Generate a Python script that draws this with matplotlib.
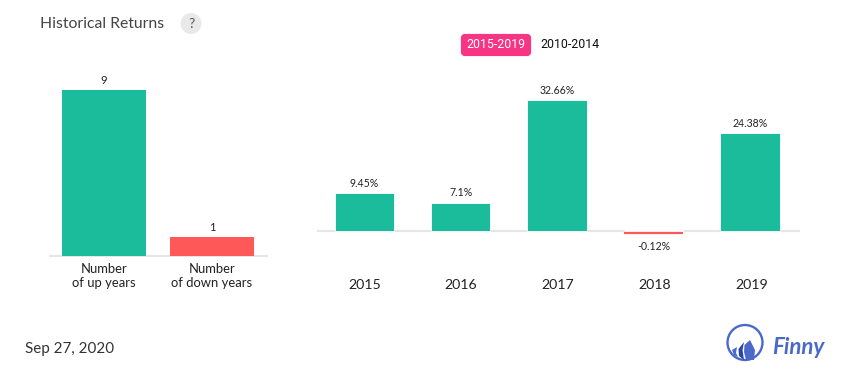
import matplotlib
matplotlib.use("Agg")
import matplotlib.pyplot as plt
from matplotlib.patches import Circle, FancyBboxPatch, Polygon

W, H = 855, 382
GREEN, RED = "#1abc9c", "#ff5858"

count_labels = ["Number\nof up years", "Number\nof down years"]
count_values = [9, 1]
years = ["2015", "2016", "2017", "2018", "2019"]
returns = [9.45, 7.1, 32.66, -0.12, 24.38]
return_labels = ["9.45%", "7.1%", "32.66%", "-0.12%", "24.38%"]

plt.rcParams["font.family"] = ["Lato", "DejaVu Sans"]
fig = plt.figure(figsize=(W / 100, H / 100), dpi=100)
fig.patch.set_facecolor("white")


def px_axes(x0, y0, x1, y1):
    return fig.add_axes([x0 / W, 1 - y1 / H, (x1 - x0) / W, (y1 - y0) / H])


def px_text(x, y, s, **kw):
    fig.text(x / W, 1 - y / H, s, **kw)


# overlay in pixel coordinates for the decorations
ov = fig.add_axes([0, 0, 1, 1], zorder=5)
ov.set_xlim(0, W)
ov.set_ylim(H, 0)
ov.axis("off")
ov.patch.set_alpha(0)

# left chart
ax1 = px_axes(50, 60, 267, 255.5)
ax1.set_xlim(-0.5, 1.51)
ax1.set_ylim(0, 9 * 195.5 / 165.5)
ax1.bar(range(2), count_values, width=0.778,
        color=[GREEN if i == 0 else RED for i in range(2)], zorder=3)
for i, v in enumerate(count_values):
    ax1.annotate(str(v), (i, v), xytext=(0, 3.2), textcoords="offset points",
                 ha="center", va="bottom", fontsize=8, color="#222222")
ax1.set_xticks(range(2), count_labels)
ax1.tick_params(axis="x", length=0, pad=5.5, labelsize=9.4, labelcolor="#222222")
ax1.set_yticks([])

# right chart
ax2 = px_axes(317, 60, 800, 300)
ax2.set_xlim(-0.49, 4.52)
px_per_unit = 131.0 / 32.66
ax2.set_ylim(-69 / px_per_unit, 171 / px_per_unit)
ax2.bar(range(5), [max(v, 0) for v in returns], width=0.615,
        color=GREEN, edgecolor="white", linewidth=0.6, zorder=3)
ax2.axhline(0, color="#e6e6e6", lw=1.5, zorder=1)
for i, v in enumerate(returns):
    if v < 0:
        ax2.hlines(0, i - 0.31, i + 0.31, color="white", lw=2.5, zorder=2)
        ax2.hlines(v - 0.3, i - 0.305, i + 0.305, color=RED, lw=1.6, zorder=3)
    y = max(v, 0)
    ax2.annotate(return_labels[i], (i, y), xytext=(0, 3.0 if v >= 0 else -7.4),
                 textcoords="offset points", ha="center",
                 va="bottom" if v >= 0 else "top", fontsize=7.6, color="#222222")
    px_text(364.5 + 96.7 * i, 285, years[i], ha="center", va="center",
            fontsize=10.2, color="#222222")
ax2.set_xticks([])
ax2.set_yticks([])

for ax in (ax1, ax2):
    ax.patch.set_alpha(0)
    for name, s in ax.spines.items():
        s.set_visible(name == "bottom" and ax is ax1)
        s.set_color("#e6e6e6")
        s.set_linewidth(1.5)

# header
px_text(40, 23.5, "Historical Returns", ha="left", va="center", fontsize=11.3, color="#444444")
ov.add_patch(Circle((191, 23.5), 10.5, fc="#e9e9e9", ec="none"))
ov.text(191, 23.5, "?", ha="center", va="center", fontsize=10, color="#555555", zorder=10)

# period switch
ov.add_patch(FancyBboxPatch((463, 36), 66, 18, boxstyle="round,pad=0,rounding_size=2",
                            mutation_aspect=1, fc="#f73585", ec="#f73585", lw=3))
PILL = ["Roboto", "DejaVu Sans"]
ov.text(495.5, 45, "2015-2019", ha="center", va="center", fontsize=8.9, color="white", family=PILL)
ov.text(569.5, 45, "2010-2014", ha="center", va="center", fontsize=8.9, color="#111111", family=PILL)

# footer
px_text(25, 349, "Sep 27, 2020", ha="left", va="center", fontsize=10.9, color="#333333")

# logo
BLUE, DARK = "#4a69c9", "#2647a8"
ov.add_patch(Circle((745, 342.5), 17.5, fc="none", ec=BLUE, lw=1.7))
ov.add_patch(Polygon([(732, 350), (737, 347), (736, 353), (738, 357), (734, 355)], fc=BLUE, ec="none"))
ov.add_patch(Polygon([(738.5, 349), (744, 342), (742.5, 350), (744, 360), (739, 356)], fc=DARK, ec="none"))
ov.add_patch(Polygon([(744.5, 345), (750, 340), (755, 350), (754, 360), (746, 360), (744, 352)], fc=BLUE, ec="none"))
ov.text(772, 347.5, "Finny", ha="left", va="center", fontsize=16, color=BLUE,
        family="Lato", style="italic", weight="bold")

fig.savefig("out.png", dpi=100)
